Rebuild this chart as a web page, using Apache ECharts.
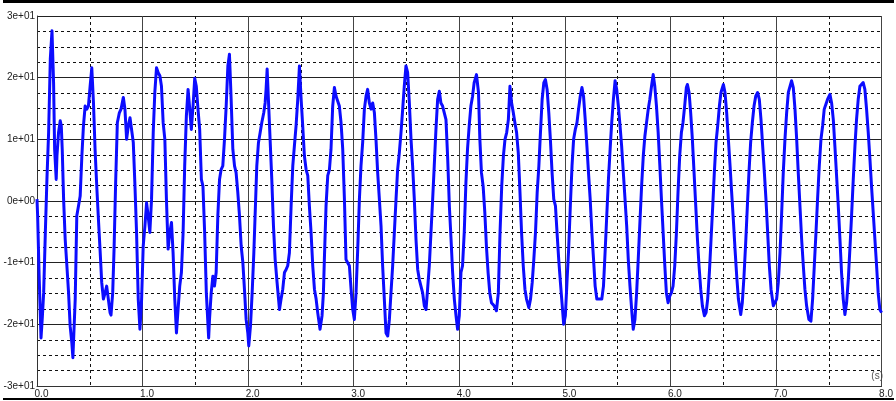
<!DOCTYPE html>
<html>
<head>
<meta charset="utf-8">
<script src="https://cdn.jsdelivr.net/npm/echarts@6/dist/echarts.min.js"></script>
<style>
html,body{margin:0;padding:0;background:#fff;}
#chart{width:896px;height:401px;}
</style>
</head>
<body>
<div id="chart"></div>
<script>
// x tick labels (seconds) and y tick labels
const xTickValues = [0, 1, 2, 3, 4, 5, 6, 7, 8];
const xTickLabels = ['0.0', '1.0', '2.0', '3.0', '4.0', '5.0', '6.0', '7.0', '8.0'];
const yTickValues = [-30, -20, -10, 0, 10, 20, 30];
const yTickLabels = ['-3e+01', '-2e+01', '-1e+01', '0e+00', '1e+01', '2e+01', '3e+01'];
const unitLabel = '(s)';

// signal samples [time (s), value]
const signalA = [
[0.000,0.3],[0.006,-2.4],[0.020,-12],[0.038,-22.2],[0.050,-19],[0.063,-14.9],[0.079,-5.1],[0.094,3.5],[0.110,11.1],[0.126,23.0],[0.142,27.6],[0.157,19.2],[0.167,8.4],[0.182,3.5],[0.189,7.3],[0.204,11.1],[0.220,13.0],[0.230,12.2],[0.239,8.4],[0.252,0.3],[0.267,-6.2],[0.283,-10.5],[0.299,-14.9],[0.314,-20.3],[0.330,-23.0],[0.340,-25.4],[0.362,-15.9],[0.377,-2.4],[0.393,-0.8],[0.409,0.8],[0.425,7.3],[0.440,12.2],[0.456,15.4],[0.472,14.9],[0.487,15.4],[0.503,18.6],[0.519,21.6],[0.535,15.9],[0.550,8.4],[0.566,2.4],[0.582,-3.0],[0.597,-7.8],[0.613,-13.2],[0.629,-15.9],[0.645,-14.9],[0.660,-13.8],[0.676,-13.5],[0.692,-18.1],[0.701,-18.5],[0.717,-14.9],[0.730,-7.8],[0.745,3.0],[0.761,12.7],[0.780,14.3],[0.796,14.9],[0.818,16.8],[0.833,14.9],[0.849,10.0],[0.865,12.2],[0.881,13.5],[0.896,13.2],[0.912,9.5],[0.928,2.4],[0.943,-5.1],[0.959,-15.9],[0.975,-20.8],[0.991,-15.9],[1.006,-7.3],[1.022,-4.1],[1.038,-0.3],[1.053,-2.4],[1.069,-5.1],[1.085,0.3],[1.101,11.1],[1.116,17.6],[1.132,21.6],[1.148,20.8],[1.164,20.3],[1.179,18.6],[1.195,12.7],[1.211,10.0],[1.226,0.3],[1.242,-7.8],[1.258,-5.1],[1.274,-3.5],[1.289,-8.4],[1.305,-15.9],[1.321,-21.4],[1.336,-17.6],[1.352,-13.8],[1.368,-11.6],[1.384,-5.1],[1.399,5.7],[1.415,13.8],[1.431,18.1],[1.447,14.9],[1.462,11.6],[1.478,15.4],[1.494,19.9],[1.509,18.6],[1.525,14.9],[1.541,11.6],[1.557,3.5],[1.572,2.4],[1.588,-5.1],[1.604,-14.9],[1.626,-22.2]
];
const signalB = [
[1.634,-19.2],[1.650,-14.9],[1.666,-12.2],[1.681,-13.8],[1.697,-11.6],[1.713,-2.4],[1.729,3.5],[1.744,5.1],[1.760,5.7],[1.776,10.0],[1.792,15.4],[1.808,21.9],[1.823,23.8],[1.839,16.5],[1.855,8.4],[1.871,5.7],[1.886,4.6],[1.902,1.4],[1.918,-2.4],[1.934,-7.3],[1.950,-10.0],[1.965,-14.3],[1.981,-19.2],[1.997,-21.4],[2.006,-23.5],[2.022,-20.3],[2.038,-14.9],[2.054,-8.4],[2.069,-0.8],[2.082,5.7],[2.098,9.5],[2.114,11.1],[2.129,12.7],[2.148,14.3],[2.161,15.9],[2.170,18.1],[2.180,21.4],[2.192,16.5],[2.208,10.0],[2.224,3.5],[2.240,-4.1],[2.256,-9.5],[2.274,-13.2],[2.297,-17.6],[2.312,-15.9],[2.328,-14.3],[2.344,-11.6],[2.360,-11.1],[2.375,-10.5],[2.391,-8.4],[2.407,-0.8],[2.423,5.7],[2.438,8.9],[2.454,12.2],[2.470,16.5],[2.486,21.9],[2.502,16.5],[2.517,12.2],[2.533,7.3],[2.549,5.1],[2.565,4.1],[2.580,-0.8],[2.596,-5.1],[2.612,-10.5],[2.628,-14.3],[2.644,-15.9],[2.659,-18.1],[2.681,-20.8],[2.700,-18.6],[2.713,-14.9],[2.722,-9.5],[2.738,-0.8],[2.754,4.1],[2.770,5.1],[2.785,8.4],[2.801,15.4],[2.817,18.4],[2.833,17.0],[2.849,17.0],[2.864,15.4],[2.880,12.7],[2.896,8.4],[2.912,0.3],[2.927,-9.5],[2.943,-10.0],[2.959,-10.5],[2.975,-14.3],[2.991,-17.6],[3.006,-19.2],[3.022,-14.9],[3.038,-7.8],[3.054,0.3],[3.069,5.7],[3.085,9.5],[3.101,14.9],[3.117,17.0],[3.132,18.1],[3.148,15.9],[3.164,14.9],[3.180,15.9],[3.196,14.3],[3.211,10.0],[3.227,4.6],[3.243,0.3],[3.259,-4.1],[3.274,-10.5],[3.290,-15.9],[3.306,-21.4],[3.322,-21.9],[3.338,-19.2],[3.353,-14.9],[3.369,-10.5],[3.385,-5.1],[3.401,0.3],[3.416,5.1],[3.432,7.8],[3.448,11.1],[3.464,14.9],[3.479,18.6],[3.495,21.9],[3.511,20.8],[3.527,15.9],[3.543,10.0],[3.558,5.7],[3.574,0.3],[3.590,-6.2],[3.606,-11.1],[3.621,-12.7],[3.637,-13.8],[3.653,-14.9],[3.669,-17.0],[3.685,-17.6],[3.700,-14.3],[3.716,-10.5],[3.732,-5.1],[3.748,0.3],[3.763,5.7],[3.779,11.6],[3.795,16.5],[3.811,17.8],[3.826,15.9],[3.842,15.4],[3.858,14.3],[3.874,13.2],[3.890,7.0]
];
const signalC = [
[3.906,-0.8],[3.922,-6.2],[3.937,-11.6],[3.953,-15.9],[3.969,-18.6],[3.984,-20.8],[4.000,-18.6],[4.016,-11.6],[4.031,-10.5],[4.047,-5.1],[4.063,3.0],[4.078,8.4],[4.094,12.2],[4.110,15.4],[4.126,17.0],[4.141,19.2],[4.163,20.5],[4.182,17.6],[4.195,10.0],[4.210,4.6],[4.226,2.4],[4.242,-1.9],[4.257,-7.3],[4.273,-11.6],[4.289,-14.9],[4.305,-16.5],[4.330,-17.0],[4.352,-17.8],[4.370,-14.9],[4.386,-5.1],[4.402,2.4],[4.418,7.3],[4.433,10.0],[4.449,11.1],[4.465,13.2],[4.480,18.6],[4.496,15.9],[4.512,14.3],[4.527,12.7],[4.543,11.1],[4.559,7.8],[4.575,1.4],[4.590,-5.1],[4.606,-10.5],[4.622,-14.3],[4.637,-15.9],[4.659,-17.3],[4.675,-15.9],[4.691,-13.2],[4.706,-9.5],[4.722,-5.1],[4.738,1.4],[4.754,5.7],[4.769,11.1],[4.785,16.5],[4.801,19.2],[4.816,19.7],[4.832,18.1],[4.848,14.3],[4.863,10.0],[4.879,4.6],[4.895,0.3],[4.911,-0.8],[4.926,-5.1],[4.942,-9.5],[4.958,-13.2],[4.973,-16.5],[4.989,-20.0],[5.005,-18.6],[5.020,-13.2],[5.036,-7.8],[5.052,-0.8],[5.068,5.7],[5.083,10.0],[5.099,11.6],[5.115,12.7],[5.130,14.9],[5.146,17.0],[5.162,18.4],[5.177,17.0],[5.193,13.2],[5.209,8.9],[5.224,4.6],[5.240,0.3],[5.256,-5.1],[5.272,-9.5],[5.287,-13.8],[5.303,-15.9],[5.319,-16.2],[5.350,-15.9],[5.366,-13.8],[5.381,-8.4],[5.397,-2.4],[5.413,3.5],[5.429,8.4],[5.444,12.7],[5.460,16.5],[5.476,19.5],[5.491,18.1],[5.507,15.4],[5.523,12.2],[5.538,8.9],[5.554,4.6],[5.570,0.3],[5.586,-4.1],[5.601,-9.5],[5.617,-13.8],[5.633,-17.6],[5.648,-20.8],[5.664,-19.2],[5.680,-14.9],[5.695,-9.5],[5.711,-3.5],[5.727,2.4],[5.743,7.3],[5.758,10.5],[5.774,12.7],[5.790,14.9],[5.805,16.5],[5.821,18.6],[5.837,20.5],[5.852,18.6],[5.868,15.4],[5.884,11.1],[5.900,5.7],[5.915,0.3],[5.931,-5.1],[5.947,-10.5],[5.962,-14.9],[5.978,-16.5],[5.994,-15.4],[6.009,-14.9],[6.025,-13.8],[6.041,-10.5],[6.057,-5.1],[6.072,1.4],[6.088,7.3],[6.104,11.1],[6.119,12.7],[6.135,15.4],[6.151,18.4]
];
const signalD = [
[6.161,18.9],[6.177,17.6],[6.192,14.3],[6.208,10.0],[6.224,4.6],[6.240,-0.8],[6.256,-6.2],[6.271,-10.5],[6.287,-14.3],[6.303,-17.0],[6.322,-18.6],[6.338,-18.1],[6.353,-15.9],[6.369,-11.6],[6.385,-6.2],[6.401,-0.8],[6.416,4.6],[6.432,9.5],[6.448,12.2],[6.464,15.4],[6.479,17.6],[6.502,18.9],[6.517,17.6],[6.533,14.3],[6.549,10.0],[6.565,5.7],[6.580,1.4],[6.596,-3.0],[6.612,-7.8],[6.628,-12.2],[6.644,-15.9],[6.666,-18.4],[6.681,-16.5],[6.697,-12.2],[6.713,-6.8],[6.729,-0.8],[6.744,4.6],[6.760,9.5],[6.776,12.7],[6.792,15.4],[6.808,17.0],[6.826,17.6],[6.842,16.5],[6.858,13.2],[6.874,8.9],[6.890,4.6],[6.905,0.3],[6.921,-5.1],[6.937,-10.5],[6.953,-14.3],[6.975,-17.0],[6.991,-17.0],[7.006,-15.9],[7.022,-13.2],[7.038,-8.4],[7.054,-1.9],[7.069,4.6],[7.085,10.0],[7.101,14.3],[7.117,17.6],[7.148,19.5],[7.164,18.4],[7.180,14.9],[7.196,10.0],[7.211,4.6],[7.227,-0.8],[7.243,-6.2],[7.259,-10.5],[7.274,-14.3],[7.290,-17.0],[7.312,-19.2],[7.331,-19.5],[7.347,-15.9],[7.363,-10.5],[7.379,-5.1],[7.394,0.3],[7.410,5.7],[7.426,10.0],[7.442,12.2],[7.457,14.9],[7.473,15.7],[7.489,16.5],[7.511,17.3],[7.527,15.9],[7.543,13.2],[7.558,8.9],[7.574,4.1],[7.590,-0.8],[7.606,-6.2],[7.621,-11.6],[7.637,-15.9],[7.653,-18.4],[7.669,-16.5],[7.685,-12.7],[7.700,-7.8],[7.716,-2.4],[7.732,3.5],[7.748,8.9],[7.763,13.2],[7.779,16.5],[7.795,18.6],[7.826,19.2],[7.842,18.1],[7.858,14.9],[7.874,11.1],[7.890,6.8],[7.905,2.4],[7.921,-1.9],[7.937,-6.2],[7.953,-10.5],[7.968,-14.9],[7.984,-17.6],[8.000,-18.1]
];

const signal = signalA.concat(signalB, signalC, signalD);

const chart = echarts.init(document.getElementById('chart'), null, {renderer: 'canvas'});
const fontFam = '"Liberation Sans", Arial, sans-serif';

chart.setOption({
  animation: false,
  backgroundColor: '#ffffff',
  grid: {left: 37, right: 12, top: 16, bottom: 15, containLabel: false},
  xAxis: {
    type: 'value',
    min: 0, max: 8, interval: 1,
    axisLine: {show: true, onZero: false, lineStyle: {color: '#333', width: 1}},
    axisTick: {show: false},
    axisLabel: {
      color: '#222', fontSize: 10, fontFamily: fontFam, margin: 3,
      padding: [0, 0, 0, 9],
      showMinLabel: true, showMaxLabel: true,
      formatter: v => xTickLabels[xTickValues.indexOf(Math.round(v))] || ''
    },
    splitLine: {show: true, lineStyle: {color: '#444', width: 1}},
    minorTick: {show: true, splitNumber: 2, length: 0},
    minorSplitLine: {show: true, lineStyle: {color: '#111', width: 1, type: [3, 3]}}
  },
  yAxis: {
    type: 'value',
    min: -30, max: 30, interval: 10,
    axisLine: {show: true, lineStyle: {color: '#333', width: 1}},
    axisTick: {show: false},
    axisLabel: {
      color: '#222', fontSize: 10, fontFamily: fontFam, margin: 2,
      formatter: v => yTickLabels[yTickValues.indexOf(Math.round(v))] || ''
    },
    splitLine: {show: true, lineStyle: {color: '#222', width: 1}},
    minorTick: {show: true, splitNumber: 4, length: 0},
    minorSplitLine: {show: true, lineStyle: {color: '#111', width: 1, type: [3, 3]}}
  },
  graphic: [
    {type: 'rect', left: 3, top: 0, shape: {width: 891, height: 3}, style: {fill: '#000'}, silent: true},
    {type: 'rect', left: 3, top: 398, shape: {width: 891, height: 2}, style: {fill: '#000'}, silent: true, z: 100},
    {type: 'text', right: 13, top: 371, style: {text: unitLabel, fill: '#555', font: '10px ' + fontFam}, silent: true}
  ],
  series: [{
    type: 'line',
    data: signal,
    showSymbol: false,
    smooth: false,
    clip: true,
    lineStyle: {color: '#0c0cff', width: 3, join: 'round'}
  }]
});
</script>
</body>
</html>
